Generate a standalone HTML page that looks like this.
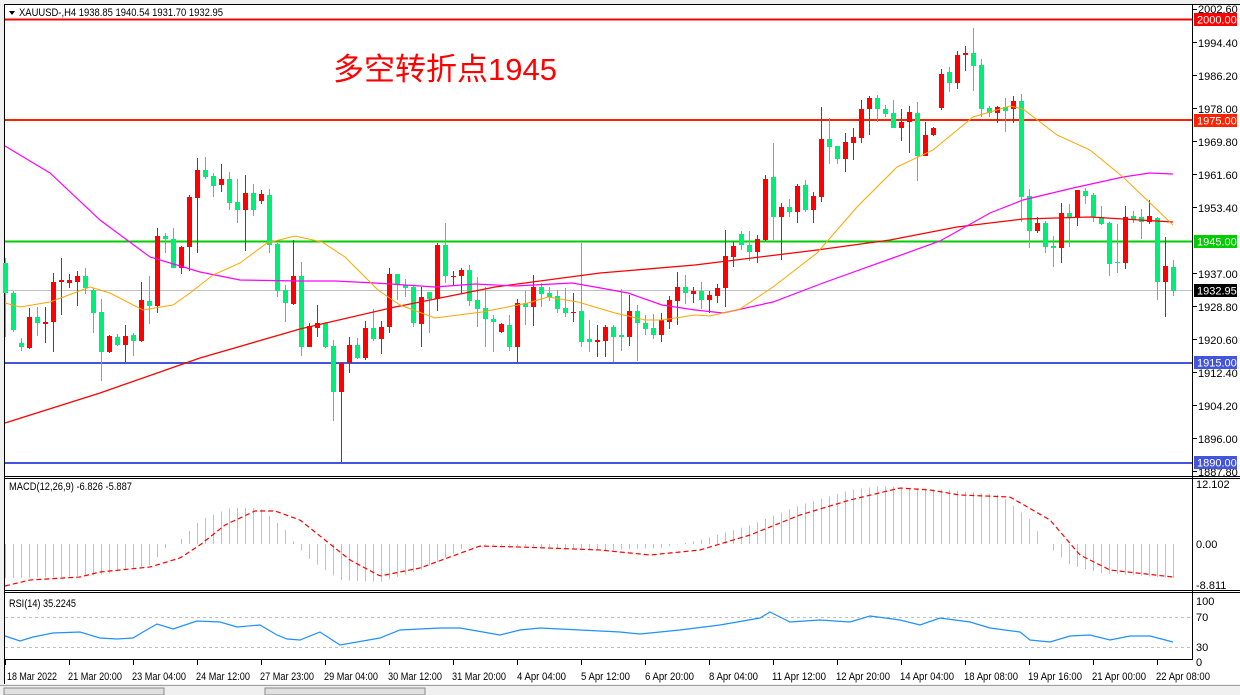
<!DOCTYPE html>
<html><head><meta charset="utf-8"><style>
body{margin:0;width:1240px;height:695px;overflow:hidden;background:#f0f0f0;font-family:"Liberation Sans",sans-serif;}
svg{position:absolute;left:0;top:0}
</style></head><body>
<svg id="s" width="1240" height="695" xmlns="http://www.w3.org/2000/svg" font-family="Liberation Sans, sans-serif" font-size="11">
<rect x="0" y="0" width="1240" height="695" fill="#f0f0f0"/>
<rect x="4" y="4" width="1236" height="680" fill="#fff"/>
<g id="grid"></g>
<line x1="4.5" y1="4" x2="4.5" y2="684" stroke="#000"/>
<line x1="4" y1="4.5" x2="1240" y2="4.5" stroke="#000"/>
<line x1="1192.5" y1="4" x2="1192.5" y2="660" stroke="#000"/>
<line x1="4" y1="476.5" x2="1240" y2="476.5" stroke="#000"/>
<line x1="4" y1="478.5" x2="1240" y2="478.5" stroke="#000"/>
<line x1="4" y1="590.5" x2="1240" y2="590.5" stroke="#000"/>
<line x1="4" y1="592.5" x2="1240" y2="592.5" stroke="#000"/>
<line x1="4" y1="659.5" x2="1192" y2="659.5" stroke="#000"/>
<rect x="0" y="685" width="1240" height="10" fill="#f0f0f0"/>
<line x1="0" y1="685.5" x2="1240" y2="685.5" stroke="#a0a0a0"/>
<rect x="4" y="688" width="160" height="7" fill="#e0e0e0" stroke="#888"/>
<rect x="265" y="688" width="160" height="7" fill="#e0e0e0" stroke="#888"/>
<line x1="5" y1="290.5" x2="1192" y2="290.5" stroke="#c0c0c0"/>
<line x1="5" y1="19.5" x2="1192" y2="19.5" stroke="#ff0000" stroke-width="2"/>
<line x1="5" y1="120" x2="1192" y2="120" stroke="#ff2200" stroke-width="2"/>
<line x1="5" y1="241.5" x2="1192" y2="241.5" stroke="#00cc00" stroke-width="2"/>
<line x1="5" y1="363" x2="1192" y2="363" stroke="#4455dd" stroke-width="2"/>
<line x1="5" y1="463" x2="1192" y2="463" stroke="#4455dd" stroke-width="2"/>
<line x1="5" y1="617.5" x2="1192" y2="617.5" stroke="#c0c0c0" stroke-dasharray="3,3"/>
<line x1="5" y1="647.5" x2="1192" y2="647.5" stroke="#c0c0c0" stroke-dasharray="3,3"/>
<g id="macd"></g>
<g id="candles"></g>
<g id="lines"></g>
<polygon points="9,11 15,11 12,15" fill="#000"/>
<text x="19" y="16" font-size="11" textLength="204" lengthAdjust="spacingAndGlyphs">XAUUSD-,H4  1938.85 1940.54 1931.70 1932.95</text>
<text x="333" y="80" font-size="31" fill="#ff0000" font-family="Liberation Sans, Noto Sans CJK SC, sans-serif">多空转折点1945</text>
<text x="9" y="490" font-size="11" textLength="123" lengthAdjust="spacingAndGlyphs">MACD(12,26,9) -6.826 -5.887</text>
<text x="9" y="607" font-size="11" textLength="67" lengthAdjust="spacingAndGlyphs">RSI(14) 35.2245</text>
<g font-size="11" fill="#000">
<text x="1198" y="13">2002.60</text>
<text x="1198" y="47">1994.40</text>
<text x="1198" y="80">1986.20</text>
<text x="1198" y="113">1978.00</text>
<text x="1198" y="146">1969.80</text>
<text x="1198" y="179">1961.60</text>
<text x="1198" y="212">1953.40</text>
<text x="1198" y="278">1937.00</text>
<text x="1198" y="311">1928.80</text>
<text x="1198" y="344">1920.60</text>
<text x="1198" y="377">1912.40</text>
<text x="1198" y="410">1904.20</text>
<text x="1198" y="443">1896.00</text>
<text x="1198" y="476">1887.80</text>
<text x="1196" y="488">12.102</text>
<text x="1196" y="548">0.00</text>
<text x="1196" y="589">-8.811</text>
<text x="1196" y="605">100</text>
<text x="1196" y="621">70</text>
<text x="1196" y="651">30</text>
<text x="1196" y="666">0</text>
</g>
<g id="ticks"></g>
<rect x="1194" y="13" width="43" height="13" fill="#ff0000"/><text x="1197" y="23.5" fill="#fff">2000.00</text>
<rect x="1194" y="114" width="43" height="13" fill="#ff2200"/><text x="1197" y="124.5" fill="#fff">1975.00</text>
<rect x="1194" y="235" width="43" height="13" fill="#00cc00"/><text x="1197" y="245.5" fill="#fff">1945.00</text>
<rect x="1194" y="284" width="43" height="13" fill="#000"/><text x="1197" y="294.5" fill="#fff">1932.95</text>
<rect x="1194" y="356" width="43" height="13" fill="#4455dd"/><text x="1197" y="366.5" fill="#fff">1915.00</text>
<rect x="1194" y="456" width="43" height="13" fill="#4455dd"/><text x="1197" y="466.5" fill="#fff">1890.00</text>
<g font-size="11" lengthAdjust="spacingAndGlyphs">
<text x="7" y="680" textLength="50" lengthAdjust="spacingAndGlyphs">18 Mar 2022</text>
<text x="68" y="680" textLength="54" lengthAdjust="spacingAndGlyphs">21 Mar 20:00</text>
<text x="132" y="680" textLength="54" lengthAdjust="spacingAndGlyphs">23 Mar 04:00</text>
<text x="196" y="680" textLength="54" lengthAdjust="spacingAndGlyphs">24 Mar 12:00</text>
<text x="260" y="680" textLength="54" lengthAdjust="spacingAndGlyphs">27 Mar 23:00</text>
<text x="324" y="680" textLength="54" lengthAdjust="spacingAndGlyphs">29 Mar 04:00</text>
<text x="388" y="680" textLength="54" lengthAdjust="spacingAndGlyphs">30 Mar 12:00</text>
<text x="452" y="680" textLength="54" lengthAdjust="spacingAndGlyphs">31 Mar 20:00</text>
<text x="517" y="680" textLength="49" lengthAdjust="spacingAndGlyphs">4 Apr 04:00</text>
<text x="581" y="680" textLength="49" lengthAdjust="spacingAndGlyphs">5 Apr 12:00</text>
<text x="645" y="680" textLength="49" lengthAdjust="spacingAndGlyphs">6 Apr 20:00</text>
<text x="709" y="680" textLength="49" lengthAdjust="spacingAndGlyphs">8 Apr 04:00</text>
<text x="772" y="680" textLength="54" lengthAdjust="spacingAndGlyphs">11 Apr 12:00</text>
<text x="836" y="680" textLength="54" lengthAdjust="spacingAndGlyphs">12 Apr 20:00</text>
<text x="900" y="680" textLength="54" lengthAdjust="spacingAndGlyphs">14 Apr 04:00</text>
<text x="964" y="680" textLength="54" lengthAdjust="spacingAndGlyphs">18 Apr 08:00</text>
<text x="1028" y="680" textLength="54" lengthAdjust="spacingAndGlyphs">19 Apr 16:00</text>
<text x="1092" y="680" textLength="54" lengthAdjust="spacingAndGlyphs">21 Apr 00:00</text>
<text x="1156" y="680" textLength="54" lengthAdjust="spacingAndGlyphs">22 Apr 08:00</text>
</g>
</svg>
<script>
var NS="http://www.w3.org/2000/svg";
function el(p,t,a){var e=document.createElementNS(NS,t);for(var k in a)e.setAttribute(k,a[k]);document.getElementById(p).appendChild(e);return e;}
var C=[
[0,263,293,258,337],[0,293,330,291,332],[0,343,347,338,351],[1,317,348,308,349],[0,317,323,307,336],[1,322,324,307,343],[1,282,322,273,352],[1,280,282,258,315],[1,280,283,274,288],[1,276,282,271,306],
[0,276,288,268,294],[0,290,313,288,333],[0,312,352,299,381],[1,336,352,335,353],[0,337,345,334,346],[1,336,345,325,362],[0,335,341,333,356],[1,300,341,282,342],[0,301,306,276,324],[1,236,306,228,313],
[0,236,239,233,253],[0,239,268,228,268],[1,247,268,246,274],[1,197,247,195,271],[1,170,198,158,253],[0,170,177,157,179],[0,176,186,173,197],[1,179,185,164,192],[0,179,203,172,210],[0,202,210,179,223],
[1,193,210,175,251],[0,193,210,184,216],[1,194,201,190,204],[0,195,245,189,253],[0,244,291,243,297],[0,290,303,285,322],[1,276,304,240,305],[0,276,347,262,356],[1,326,347,323,347],[1,323,328,305,337],
[0,323,347,322,348],[0,346,392,340,421],[1,363,392,363,462],[1,345,363,337,373],[0,345,358,338,359],[1,328,358,321,360],[0,328,339,309,341],[1,327,339,321,354],[1,274,327,268,333],[0,274,285,274,300],
[0,285,288,279,297],[0,287,323,285,327],[1,297,324,287,347],[0,292,299,293,333],[1,245,299,243,311],[0,245,276,223,283],[1,276,277,271,285],[1,270,276,268,293],[0,270,301,265,306],[0,300,309,277,327],
[0,308,319,287,347],[0,319,322,315,352],[1,324,332,323,333],[0,325,347,315,351],[1,303,347,299,363],[0,303,307,291,325],[1,287,307,275,326],[0,287,294,283,307],[0,293,297,287,301],[0,296,309,290,313],
[0,308,313,288,317],[1,312,313,293,322],[0,311,342,243,347],[0,339,342,320,352],[1,340,342,325,357],[1,327,341,325,357],[0,327,337,325,362],[0,335,337,289,351],[1,311,337,295,346],[0,311,323,305,361],
[0,323,329,315,335],[0,328,335,314,339],[1,320,335,313,342],[1,300,322,296,329],[1,287,301,272,325],[0,287,293,275,304],[1,291,294,287,303],[0,291,300,282,309],[1,295,300,291,313],[1,288,296,284,303],
[1,256,288,230,307],[1,246,257,242,267],[0,234,245,231,250],[0,245,252,231,261],[1,239,252,235,263],[1,179,240,175,241],[0,177,217,143,240],[1,207,217,203,260],[0,207,212,199,217],[1,186,212,184,223],
[0,185,210,180,212],[1,196,210,192,223],[1,139,197,107,202],[0,139,147,118,164],[0,146,159,146,164],[1,142,159,133,172],[1,137,143,128,160],[1,109,138,100,143],[1,98,109,96,135],[0,98,109,95,122],
[0,109,114,105,117],[0,113,128,100,128],[1,122,128,109,141],[1,112,122,106,153],[0,113,156,102,181],[1,135,156,122,155],[1,128,135,127,136],[1,74,108,69,110],[0,72,83,67,92],[1,55,83,51,89],
[1,53,55,46,71],[0,53,66,28,91],[0,65,109,59,117],[0,108,113,106,117],[1,107,113,106,123],[0,107,111,98,132],[1,101,109,96,123],[0,101,197,94,222],[0,196,231,189,248],[1,223,231,217,233],
[0,223,247,221,253],[0,246,248,236,267],[1,213,248,203,263],[0,213,217,204,247],[1,190,218,190,226],[0,191,196,188,204],[0,195,217,193,222],[0,217,224,206,225],[0,223,264,222,276],[0,262,263,224,273],
[1,217,263,206,269],[0,216,220,211,223],[0,217,222,209,239],[1,216,222,200,224],[0,218,282,217,300],[1,266,282,237,317],[0,267,291,260,296]
];
var N=C.length;
function X(i){return 1173-8*(N-1-i);}
for(var i=0;i<N;i++){var c=C[i],x=X(i),col=c[0]?"#ff0000":"#00ee77";
el("candles","line",{x1:x+.5,y1:c[3],x2:x+.5,y2:c[4],stroke:col});
el("candles","rect",{x:x-2,y:c[1],width:5,height:Math.max(1,c[2]-c[1]),fill:col});}
function pl(pts,col,w,dash){el("lines","polyline",{points:pts.map(function(p){return p.join(",")}).join(" "),fill:"none",stroke:col,"stroke-width":w||1,"stroke-dasharray":dash||"none"});}
pl([[5,423],[100,393],[200,358],[300,329],[395,307],[495,287],[600,273],[695,265],[817,250],[890,240],[957,227],[1023,219],[1090,217],[1173,222]],"#ff0000",1.3);
pl([[5,146],[50,173],[100,220],[150,257],[200,272],[240,280],[300,281],[335,281],[375,283],[435,287],[475,284],[515,286],[572,283],[595,287],[628,293],[662,305],[695,310],[723,313],[773,302],[823,283],[890,259],[940,241],[990,213],[1023,200],[1073,188],[1123,177],[1150,173],[1173,174]],"#ff00ff",1.2);
pl([[5,303],[20,307],[50,302],[90,287],[110,293],[143,310],[173,305],[190,293],[213,275],[240,263],[267,243],[295,236],[322,242],[345,257],[378,290],[400,305],[435,318],[482,312],[528,303],[548,297],[578,302],[615,313],[645,320],[662,320],[695,315],[710,316],[740,309],[773,287],[817,253],[857,207],[897,167],[933,150],[973,117],[1010,106],[1023,109],[1057,135],[1090,150],[1123,177],[1173,225]],"#ffa500",1);
function interp(pts,x){for(var k=0;k<pts.length-1;k++){if(x<=pts[k+1][0]){var a=pts[k],b=pts[k+1];return a[1]+(b[1]-a[1])*(x-a[0])/(b[0]-a[0]);}}return pts[pts.length-1][1];}
var H=[[5,578],[60,577],[100,575],[150,565],[165,548],[180,540],[200,520],[230,508],[260,508],[285,530],[295,544],[310,560],[340,580],[380,582],[420,570],[450,555],[470,544],[520,546],[600,550],[660,548],[700,540],[750,525],[800,505],[850,490],[880,486],[950,490],[1000,495],[1030,520],[1045,544],[1070,565],[1100,573],[1173,578]];
for(var i=0;i<N;i++){var x=X(i)+.5,v=interp(H,X(i));if(Math.abs(v-544)>0.5)el("macd","line",{x1:x,y1:544,x2:x,y2:v,stroke:"#c0c0c0"});}
var S=[[5,586],[30,580],[80,577],[100,572],[150,567],[180,558],[200,545],[225,525],[255,511],[275,511],[300,520],[350,560],[380,576],[420,568],[480,546],[520,547],[600,550],[650,555],[700,550],[750,535],[800,515],[850,500],[900,488],[930,490],[960,495],[1010,497],[1050,520],[1080,555],[1110,570],[1173,577]];
var sp=[];for(var x=5;x<=1173;x+=2)sp.push([x,interp(S,x)]);
el("macd","polyline",{points:sp.map(function(p){return p.join(",")}).join(" "),fill:"none",stroke:"#ff0000","stroke-width":1.2,"stroke-dasharray":"5,3"});
var R=[[5,636],[20,641],[33,637],[53,633],[80,632],[100,638],[117,639],[133,638],[143,632],[157,624],[173,629],[197,621],[220,622],[237,627],[260,625],[277,635],[287,639],[300,640],[320,632],[340,645],[380,638],[400,630],[440,628],[460,628],[500,635],[520,630],[540,628],[580,630],[620,632],[640,634],[680,630],[720,625],[760,618],[770,612],[790,622],[820,620],[850,622],[870,616],[900,620],[920,625],[940,618],[970,622],[990,628],[1020,632],[1030,640],[1050,642],[1070,636],[1090,635],[1110,640],[1130,636],[1150,636],[1173,642]];
pl(R,"#1e90ff",1.2);
for(var k=0;k<19;k++){var tx=5+64*k;el("ticks","line",{x1:tx+.5,y1:660,x2:tx+.5,y2:665,stroke:"#000"});}
var ys=[9,42,75,108,141,174,207,273,306,339,372,405,438,471];
ys.forEach(function(y){el("ticks","line",{x1:1193,y1:y+.5,x2:1197,y2:y+.5,stroke:"#000"});});
</script>
</body></html>
